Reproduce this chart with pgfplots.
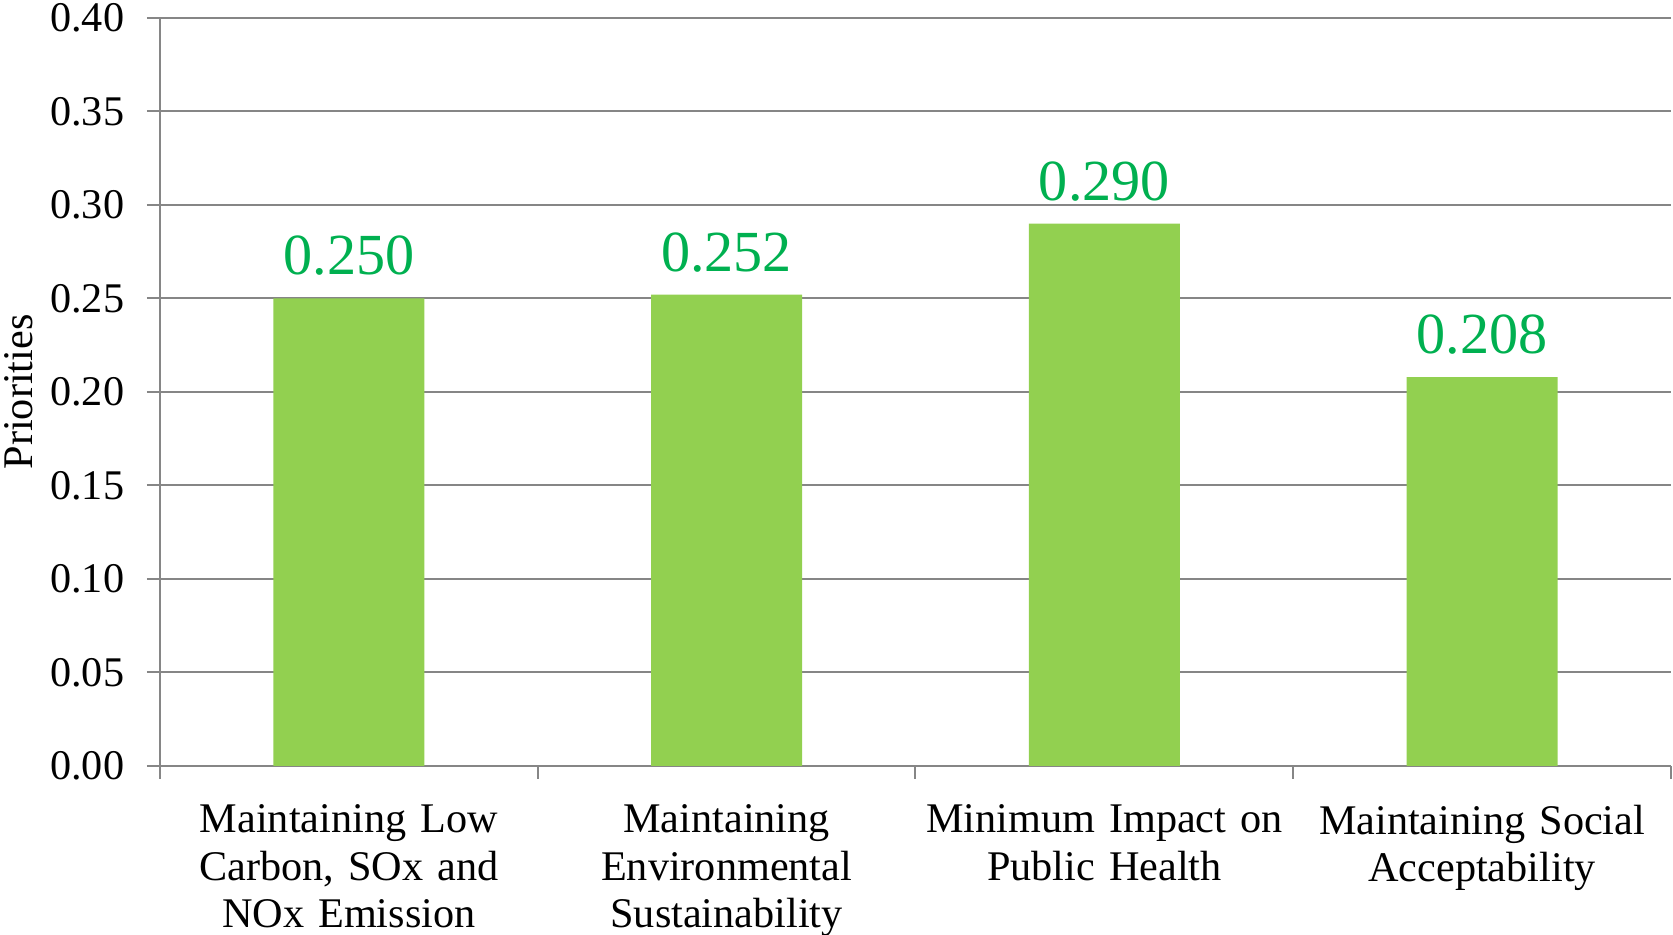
\documentclass[border=0pt]{standalone}
\usepackage{fontspec}
\setmainfont{Liberation Serif}
\usepackage{pgfplots}
\pgfplotsset{compat=1.18}
\usepackage{pgfplotstable}

\definecolor{barfill}{HTML}{92D050}
\definecolor{valgreen}{HTML}{00B050}
\definecolor{gridgray}{HTML}{868686}

\pgfplotstableread{
x  y
0  0.250
1  0.252
2  0.290
3  0.208
}\priorities

\begin{document}
\begin{tikzpicture}
\begin{axis}[
  name=ax,
  scale only axis,
  width=377.75bp, height=187bp,
  /pgf/number format/assume math mode=true,
  xmin=-0.5, xmax=3.5,
  ymin=0, ymax=0.4,
  ytick={0,0.05,...,0.4},
  yticklabel style={/pgf/number format/.cd, fixed, fixed zerofill, precision=2, /tikz/.cd,
    font=\fontsize{10.6}{12}\selectfont, inner sep=0pt, xshift=-5.5bp},
  xtick={0,1,2,3},
  xticklabels={{Maintaining Low\\Carbon, SOx and\\NOx Emission},
               {Maintaining\\Environmental\\Sustainability},
               {Minimum Impact on\\Public Health},
               {Maintaining Social\\Acceptability}},
  xticklabel style={align=center, text width=96bp, font=\fontsize{10.6}{11.9}\selectfont,
    inner sep=0pt, yshift=-6.3bp, anchor=north},
  xtick style={draw=none},
  extra x ticks={-0.5,0.5,1.5,2.5,3.5},
  extra x tick labels={,,,,},
  extra x tick style={grid=none, xtick style={draw=gridgray, line width=0.5bp}},
  major tick length=3.25bp,
  tick align=outside,
  ytick style={draw=gridgray, line width=0.5bp},
  axis lines*=left,
  axis line style={draw=gridgray, line width=0.5bp},
  ymajorgrids,
  major grid style={draw=gridgray, line width=0.5bp},
  ylabel={Priorities},
  ylabel style={at={(axis description cs:-0.0933,0.5)}, anchor=center,
    font=\fontsize{10.6}{12}\selectfont},
  ybar, bar width=37.75bp, bar shift=0pt,
  nodes near coords={\pgfmathprintnumber[fixed,fixed zerofill,precision=3]{\pgfplotspointmeta}},
  every node near coord/.append style={font=\fontsize{14.6}{17}\selectfont,
    text=valgreen, inner sep=0pt, yshift=5.5bp},
]
\addplot[fill=barfill, draw=none] table[x=x, y=y] {\priorities};
\end{axis}
\pgfresetboundingbox
\path[use as bounding box] ([shift={(-40bp,-42.25bp)}]ax.south west)
  rectangle ([shift={(0.5bp,4.5bp)}]ax.north east);
\end{tikzpicture}
\end{document}
